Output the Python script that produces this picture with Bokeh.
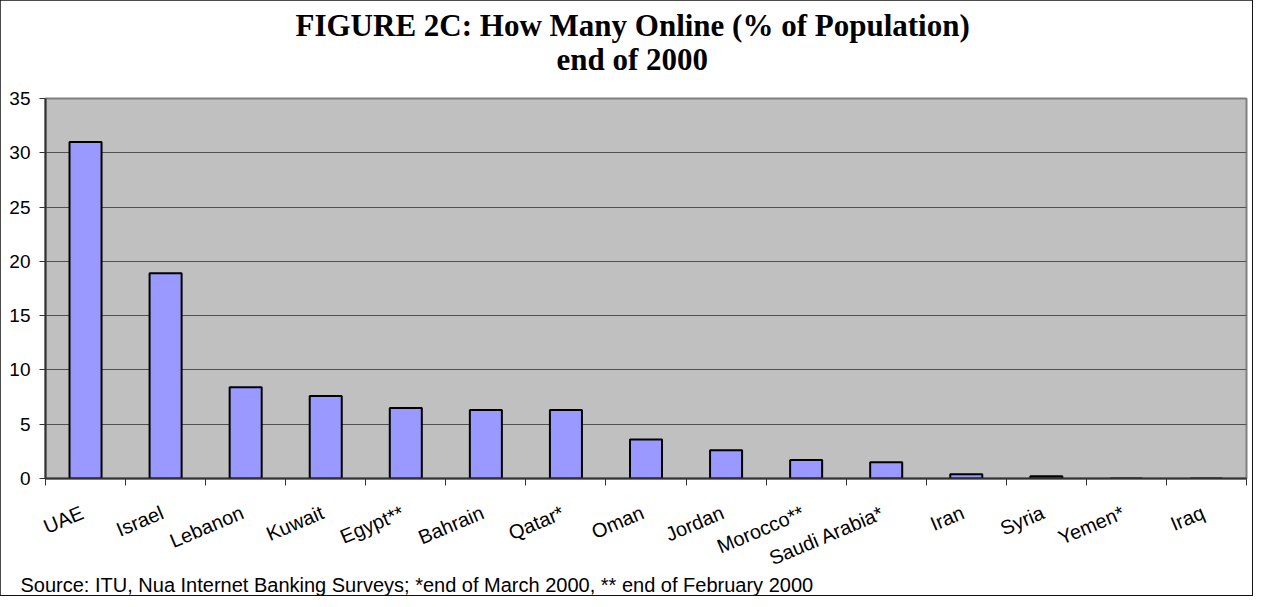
from bokeh.plotting import figure
from bokeh.models import Range1d, FixedTicker, Title
from bokeh.embed import file_html
from bokeh.resources import INLINE

categories = ["UAE", "Israel", "Lebanon", "Kuwait", "Egypt**", "Bahrain", "Qatar*",
              "Oman", "Jordan", "Morocco**", "Saudi Arabia*", "Iran", "Syria", "Yemen*", "Iraq"]
values = [31.0, 18.9, 8.4, 7.6, 6.5, 6.3, 6.3, 3.6, 2.6, 1.7, 1.5, 0.4, 0.2, 0.0, 0.0]
y_ticks = [0, 5, 10, 15, 20, 25, 30, 35]

title1 = "FIGURE 2C: How Many Online (% of Population)"
title2 = "end of 2000"
source = "Source: ITU, Nua Internet Banking Surveys; *end of March 2000, ** end of February 2000"

n = len(categories)
xs = [i + 0.5 for i in range(n)]
label_pos = [x - 0.04 for x in xs]

p = figure(width=1252, height=595, output_backend="svg", toolbar_location=None,
           x_range=Range1d(0, n), y_range=Range1d(0, 35),
           min_border_left=45, min_border_right=6, min_border_bottom=117, min_border_top=98)
p.title = None
p.styles = {"outline": "2px solid #111", "outline-offset": "-1px"}

p.background_fill_color = "#C0C0C0"
p.border_fill_color = "white"
p.outline_line_color = "#808080"
p.outline_line_width = 2

p.vbar(x=xs, top=values, width=0.4, fill_color="#9999FF", line_color="black", line_width=2)

# Y axis
p.yaxis.ticker = FixedTicker(ticks=y_ticks)
p.yaxis.axis_line_color = "#333333"
p.yaxis.axis_line_width = 2
p.yaxis.major_tick_line_color = "#333333"
p.yaxis.major_tick_out = 6
p.yaxis.major_tick_in = 0
p.yaxis.minor_tick_line_color = None
p.yaxis.major_label_text_font = "Liberation Sans"
p.yaxis.major_label_text_font_size = "19px"
p.yaxis.major_label_text_color = "black"
p.yaxis.major_label_standoff = 9

# X axis: labels near centers, ticks at boundaries
p.xaxis.ticker = FixedTicker(ticks=label_pos, minor_ticks=list(range(n + 1)))
p.xaxis.major_label_overrides = {x: c for x, c in zip(label_pos, categories)}
p.xaxis.major_tick_line_color = None
p.xaxis.minor_tick_line_color = "#333333"
p.xaxis.minor_tick_out = 7
p.xaxis.minor_tick_in = 0
p.xaxis.axis_line_color = "#333333"
p.xaxis.axis_line_width = 2
p.xaxis.major_label_orientation = 0.4
p.xaxis.major_label_text_font = "Liberation Sans"
p.xaxis.major_label_text_font_size = "20px"
p.xaxis.major_label_text_color = "black"
p.xaxis.major_label_standoff = 26

p.xgrid.grid_line_color = None
p.ygrid.ticker = FixedTicker(ticks=y_ticks[1:])
p.ygrid.grid_line_color = "#505050"
p.ygrid.grid_line_width = 1

tkw = dict(align="left", text_font="Liberation Serif", text_color="black",
           text_font_size="31px", text_font_style="bold")
# spacer between titles and plot area
p.add_layout(Title(text=" ", text_font_size="10px", standoff=10), "above")
p.add_layout(Title(text=title2, standoff=-3, offset=511, **tkw), "above")
p.add_layout(Title(text=title1, standoff=-3, offset=250, **tkw), "above")
p.add_layout(Title(text=source, align="left", text_font="Liberation Sans", text_color="black",
                   text_font_size="20px", text_font_style="normal", offset=-25, standoff=-22), "below")

open("out.html", "w").write(file_html(p, INLINE))
